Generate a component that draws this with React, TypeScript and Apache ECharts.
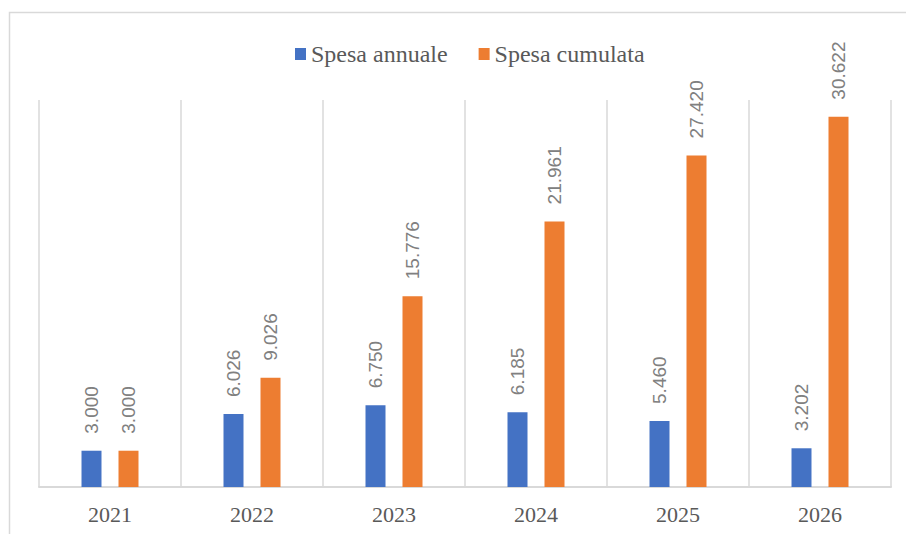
import React, { useEffect, useRef } from "react";
import * as echarts from "echarts";

const years = ["2021", "2022", "2023", "2024", "2025", "2026"];
const annualSpend = [3000, 6026, 6750, 6185, 5460, 3202];
const cumulativeSpend = [3000, 9026, 15776, 21961, 27420, 30622];
const seriesNames = ["Spesa annuale", "Spesa cumulata"];

const fmt = (v: number) => String(v).replace(/\B(?=(\d{3})+(?!\d))/g, ".");

export default function App() {
  const ref = useRef<HTMLDivElement>(null);
  useEffect(() => {
    if (!ref.current) return;
    const chart = echarts.init(ref.current, null, { renderer: "svg" });
    const label = {
      show: true,
      position: "top" as const,
      rotate: 90,
      align: "left" as const,
      verticalAlign: "middle" as const,
      distance: 17,
      color: "#808080",
      fontSize: 19,
      fontFamily: "Liberation Sans",
      formatter: (p: any) => fmt(p.value),
    };
    chart.setOption({
      animation: false,
      backgroundColor: "#ffffff",
      graphic: [
        {
          type: "rect",
          z: -10,
          shape: { x: 9.5, y: 12.5, width: 1000, height: 1000 },
          style: { fill: "none", stroke: "#d9d9d9", lineWidth: 1.5 },
        },
      ],
      legend: {
        left: 290,
        top: 37,
        itemWidth: 11,
        itemHeight: 12,
        itemGap: 31,
        icon: "rect",
        data: seriesNames,
        textStyle: {
          fontSize: 24,
          fontFamily: "Liberation Serif",
          color: "#595959",
        },
      },
      grid: { left: 39, right: 15, top: 100, bottom: 47, containLabel: false },
      xAxis: {
        type: "category",
        data: years,
        axisTick: { show: false },
        axisLine: { lineStyle: { color: "#d9d9d9", width: 2 } },
        splitLine: { show: true, lineStyle: { color: "#d9d9d9", width: 1.5 } },
        axisLabel: {
          margin: 16,
          fontSize: 22,
          fontFamily: "Liberation Serif",
          color: "#595959",
        },
      },
      yAxis: {
        type: "value",
        min: 0,
        max: 32000,
        show: false,
      },
      series: [
        {
          name: seriesNames[0],
          type: "bar",
          data: annualSpend,
          barWidth: 20,
          barGap: "85%",
          itemStyle: { color: "#4472c4" },
          label,
        },
        {
          name: seriesNames[1],
          type: "bar",
          data: cumulativeSpend,
          barWidth: 20,
          barGap: "85%",
          itemStyle: { color: "#ed7d31" },
          label,
        },
      ],
    });
    return () => chart.dispose();
  }, []);
  return (
    <div
      ref={ref}
      style={{ position: "fixed", left: 0, top: 0, width: 906, height: 534 }}
    />
  );
}
